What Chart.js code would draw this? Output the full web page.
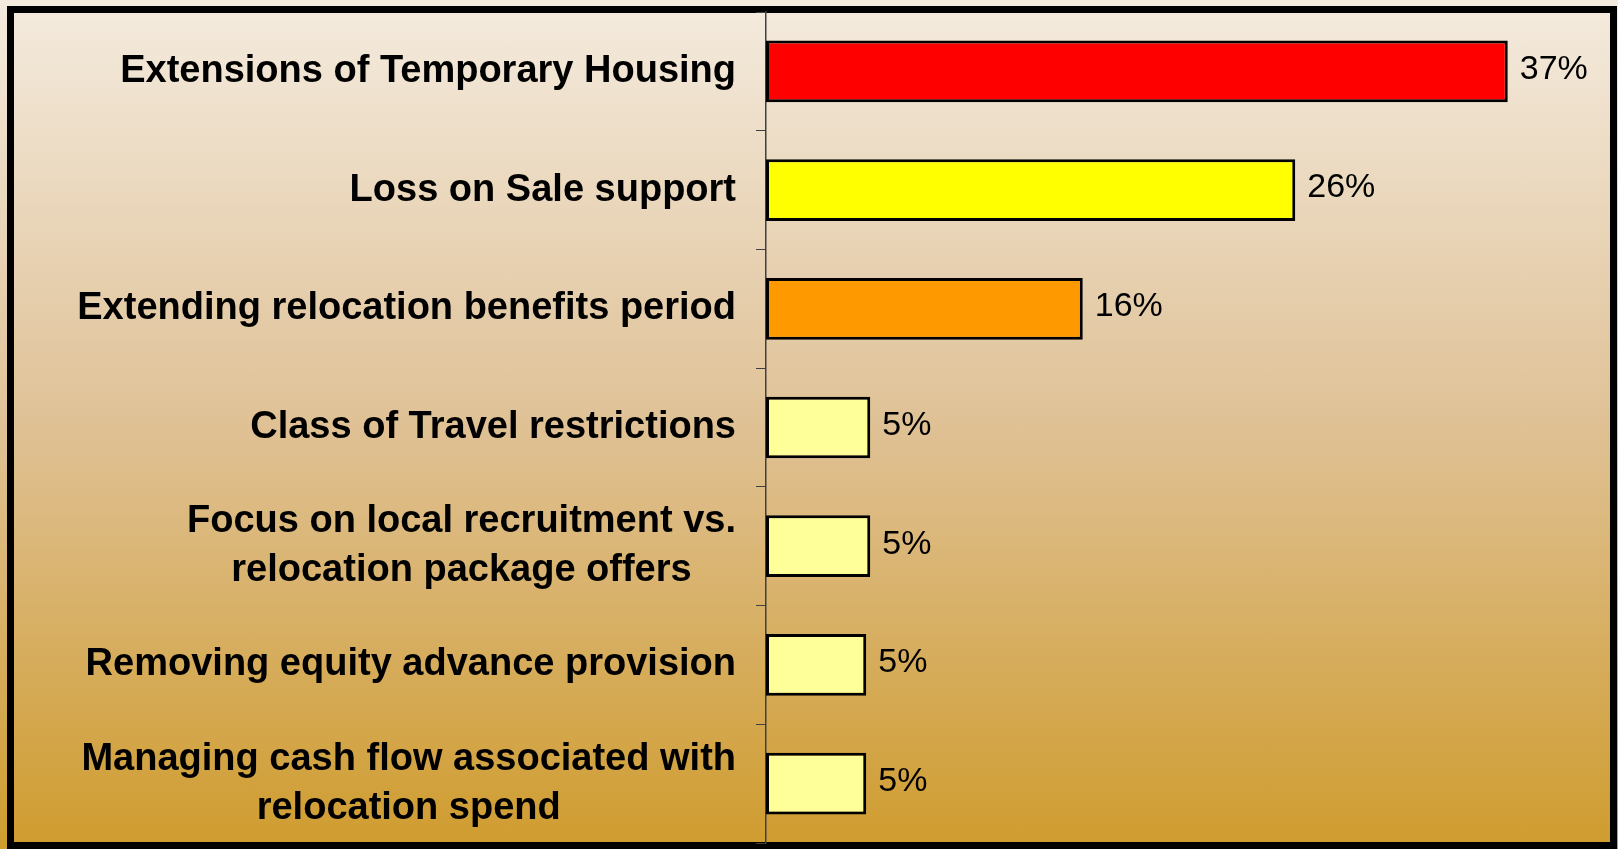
<!DOCTYPE html>
<html>
<head>
<meta charset="utf-8">
<script src="https://cdn.jsdelivr.net/npm/chart.js@4/dist/chart.umd.min.js"></script>
<style>
  body { margin: 0; }
  #wrap {
    position: relative; width: 1618px; height: 849px;
    background: linear-gradient(to bottom, #f4ebdf 0%, #dfc195 50%, #cf9c2e 100%);
  }
  #frame {
    position: absolute; left: 7px; top: 6px; width: 1596px; height: 829px;
    border: 7px solid #000;
  }
  #chartBox { position: absolute; left: 0; top: 0; width: 1618px; height: 849px; }
</style>
</head>
<body>
<div id="wrap">
  <div id="frame"></div>
  <div id="chartBox"><canvas id="chart"></canvas></div>
</div>
<script>
// categories (multi-line ones as arrays)
const categories = [
  'Extensions of Temporary Housing',
  'Loss on Sale support',
  'Extending relocation benefits period',
  'Class of Travel restrictions',
  ['Focus on local recruitment vs.', 'relocation package offers'],
  'Removing equity advance provision',
  ['Managing cash flow associated with', 'relocation spend']
];
// share of respondents, %
const values = [37, 26.4, 15.8, 5.2, 5.2, 5.0, 5.0];
const barColors = ['#ff0000', '#ffff00', '#ff9900', '#ffff99', '#ffff99', '#ffff99', '#ffff99'];

const labelFont = 'bold 38px "Liberation Sans", Arial, sans-serif';
const valueFont = '34px "Liberation Sans", Arial, sans-serif';

// draws category labels (right-aligned blocks, lines centred) and value labels
const labelPlugin = {
  id: 'labels',
  afterDatasetsDraw(chart) {
    const ctx = chart.ctx;
    const yScale = chart.scales.y;
    ctx.save();
    ctx.fillStyle = '#000';
    ctx.textBaseline = 'middle';

    ctx.font = labelFont;
    categories.forEach((c, i) => {
      const lines = Array.isArray(c) ? c : [c];
      const y = yScale.getPixelForTick(i);
      const w = Math.max(...lines.map(l => ctx.measureText(l).width));
      const right = chart.chartArea.left - 30;
      const cx = right - w / 2;
      const lh = 49;
      ctx.textAlign = 'center';
      lines.forEach((l, k) => {
        ctx.fillText(l, cx, y + (k - (lines.length - 1) / 2) * lh);
      });
    });

    ctx.font = valueFont;
    ctx.textAlign = 'left';
    chart.getDatasetMeta(0).data.forEach((bar, i) => {
      ctx.fillText(Math.round(values[i]) + '%', bar.x + 12, bar.y - 2);
    });
    ctx.restore();
  }
};

new Chart(document.getElementById('chart'), {
  type: 'bar',
  data: {
    labels: categories,
    datasets: [{
      data: values,
      backgroundColor: barColors,
      borderColor: '#000',
      borderWidth: 3,
      borderSkipped: false,
      barPercentage: 0.52,
      categoryPercentage: 1
    }]
  },
  options: {
    indexAxis: 'y',
    responsive: true,
    maintainAspectRatio: false,
    animation: false,
    layout: { padding: { left: 0, right: 10, top: 12, bottom: 6 } },
    plugins: { legend: { display: false }, tooltip: { enabled: false } },
    scales: {
      x: {
        display: false,
        min: 0,
        max: 42
      },
      y: {
        afterFit: s => { s.width = 766; },
        ticks: { display: false },
        grid: {
          drawOnChartArea: false,
          drawTicks: true,
          tickLength: 10,
          color: '#404040',
          lineWidth: 1
        },
        border: { display: true, color: '#404040', width: 1.5 }
      }
    }
  },
  plugins: [labelPlugin]
});
</script>
</body>
</html>
